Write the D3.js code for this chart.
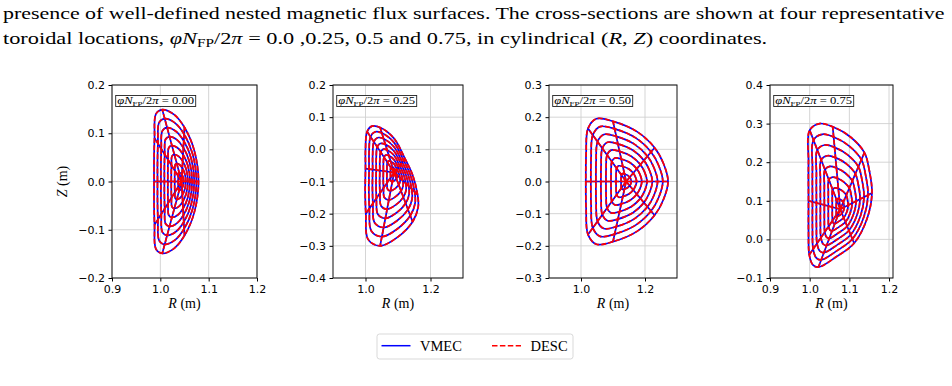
<!DOCTYPE html>
<html>
<head>
<meta charset="utf-8">
<script src="https://cdn.jsdelivr.net/npm/d3@7"></script>
<style>
  body { margin: 0; background: #fff; }
  svg { display: block; }
</style>
</head>
<body>
<div id="chart"></div>
<script>
// toroidal cuts, phi*NFP/2pi
const phiLabels = ["0.00", "0.25", "0.50", "0.75"];
// flux surface labels drawn (rho)
const rhoLevels = [0.125, 0.25, 0.375, 0.5, 0.625, 0.75, 0.875, 1.0];

// magnetic axis per cut
const axisR = [1.044, 1.088, 1.141, 1.077];
const axisZ = [0.000, -0.072, 0.000, 0.078];

// last closed surface, 16 points per cut (counter-clockwise)
const boundaryR = [
  [1.079, 1.070, 1.050, 1.028, 1.004, 0.991, 0.988, 0.987, 0.987, 0.987, 0.988, 0.991, 1.004, 1.028, 1.050, 1.070],
  [1.160, 1.145, 1.122, 1.087, 1.045, 1.020, 1.005, 1.000, 1.000, 0.999, 1.001, 1.008, 1.045, 1.100, 1.145, 1.162],
  [1.272, 1.258, 1.230, 1.175, 1.100, 1.048, 1.022, 1.016, 1.015, 1.016, 1.022, 1.048, 1.100, 1.175, 1.230, 1.258],
  [1.157, 1.150, 1.138, 1.102, 1.058, 1.025, 1.000, 0.997, 0.997, 0.997, 0.999, 1.008, 1.022, 1.067, 1.112, 1.145]
];
const boundaryZ = [
  [0.000, 0.065, 0.112, 0.139, 0.149, 0.140, 0.090, 0.045, 0.000, -0.045, -0.090, -0.140, -0.149, -0.139, -0.112, -0.065],
  [-0.140, -0.080, -0.030, 0.035, 0.068, 0.072, 0.055, 0.000, -0.060, -0.130, -0.200, -0.280, -0.300, -0.272, -0.225, -0.180],
  [0.000, 0.055, 0.105, 0.155, 0.187, 0.195, 0.165, 0.085, 0.000, -0.085, -0.165, -0.195, -0.187, -0.155, -0.105, -0.055],
  [0.120, 0.180, 0.225, 0.266, 0.292, 0.300, 0.283, 0.200, 0.100, 0.020, -0.040, -0.066, -0.072, -0.045, -0.010, 0.055]
];

// axis limits and ticks
const xDomains = [[0.9, 1.2], [0.9, 1.3], [0.9, 1.3], [0.9, 1.21]];
const yDomains = [[-0.2, 0.2], [-0.4, 0.2], [-0.3, 0.3], [-0.1, 0.4]];
const xTicks = [[0.9, 1.0, 1.1, 1.2], [1.0, 1.2], [1.0, 1.2], [0.9, 1.0, 1.1, 1.2]];
const yTicks = [
  [-0.2, -0.1, 0.0, 0.1, 0.2],
  [-0.4, -0.3, -0.2, -0.1, 0.0, 0.1, 0.2],
  [-0.3, -0.2, -0.1, 0.0, 0.1, 0.2, 0.3],
  [-0.1, 0.0, 0.1, 0.2, 0.3, 0.4]
];
const seriesNames = ["VMEC", "DESC"];

const width = 952;
const height = 386;
const frames = [
  { left: 112, right: 257 },
  { left: 333, right: 463 },
  { left: 549, right: 677 },
  { left: 770, right: 893 }
];
const frameTop = 85, frameBottom = 278;
const serif = "'Liberation Serif', 'DejaVu Serif', serif";
const sans = "'DejaVu Sans', sans-serif";

const svg = d3.select("#chart").append("svg")
  .attr("width", width)
  .attr("height", height)
  .attr("viewBox", [0, 0, width, height]);

// squeeze/stretch a text element horizontally so it spans w pixels from x
function fitWidth(t, x, w) {
  const bb = t.node().getBBox();
  const s = w / bb.width;
  t.attr("transform", `translate(${x},0) scale(${s},1) translate(${-bb.x},0)`);
}

// caption text above the figure
const line1 = svg.append("text")
  .attr("x", 0).attr("y", 19)
  .attr("font-family", serif).attr("font-size", 17.5).attr("fill", "#000")
  .text("presence of well-defined nested magnetic flux surfaces.  The cross-sections are shown at four representative");
fitWidth(line1, 3, 942);

const line2 = svg.append("text")
  .attr("x", 0).attr("y", 44.5)
  .attr("font-family", serif).attr("font-size", 17.5).attr("fill", "#000");
line2.append("tspan").text("toroidal locations, ");
line2.append("tspan").attr("font-style", "italic").text("\u03C6N");
line2.append("tspan").attr("font-size", 12).attr("dy", 3).text("FP");
line2.append("tspan").attr("dy", -3).text("/2");
line2.append("tspan").attr("font-style", "italic").text("\u03C0");
line2.append("tspan").text(" = 0.0 ,0.25, 0.5 and 0.75, in cylindrical (");
line2.append("tspan").attr("font-style", "italic").text("R, Z");
line2.append("tspan").text(") coordinates.");
fitWidth(line2, 3, 765);

const curve = d3.curveCatmullRomClosed.alpha(0.5);

phiLabels.forEach((lab, p) => {
  const f = frames[p];
  const x = d3.scaleLinear().domain(xDomains[p]).range([f.left, f.right]);
  const y = d3.scaleLinear().domain(yDomains[p]).range([frameBottom, frameTop]);
  const g = svg.append("g");

  // grid
  g.append("g").selectAll("line").data(xTicks[p]).join("line")
    .attr("x1", d => x(d)).attr("x2", d => x(d))
    .attr("y1", frameTop).attr("y2", frameBottom)
    .attr("stroke", "#d0d0d0").attr("stroke-width", 0.9);
  g.append("g").selectAll("line").data(yTicks[p]).join("line")
    .attr("x1", f.left).attr("x2", f.right)
    .attr("y1", d => y(d)).attr("y2", d => y(d))
    .attr("stroke", "#d0d0d0").attr("stroke-width", 0.9);

  // surfaces: each rho ring scaled from axis to boundary
  const ring = rho => boundaryR[p].map((r, i) => [
    axisR[p] + rho * (r - axisR[p]),
    axisZ[p] + rho * (boundaryZ[p][i] - axisZ[p])
  ]);
  const ringLine = d3.line().x(d => x(d[0])).y(d => y(d[1])).curve(curve);
  const rayIdx = d3.range(0, boundaryR[p].length, 2);
  const rayLine = i => d3.line()([
    [x(axisR[p]), y(axisZ[p])],
    [x(boundaryR[p][i]), y(boundaryZ[p][i])]
  ]);

  seriesNames.forEach(name => {
    const isDesc = name === "DESC";
    const s = g.append("g")
      .attr("fill", "none")
      .attr("stroke", isDesc ? "#ff0000" : "#0000ff")
      .attr("stroke-width", 1.7)
      .attr("stroke-dasharray", isDesc ? "5,2.2" : null);
    s.selectAll("path.ring").data(rhoLevels).join("path")
      .attr("class", "ring")
      .attr("d", rho => ringLine(ring(rho)));
    s.selectAll("path.ray").data(rayIdx).join("path")
      .attr("class", "ray")
      .attr("d", rayLine);
  });

  // axes
  g.append("g")
    .attr("transform", `translate(0,${frameBottom})`)
    .call(d3.axisBottom(x).tickValues(xTicks[p]).tickFormat(d3.format(".1f")).tickSize(3.5).tickPadding(3.5))
    .call(a => a.select(".domain").remove())
    .call(a => a.selectAll("text").attr("font-family", sans).attr("font-size", 11).attr("fill", "#000"));
  g.append("g")
    .attr("transform", `translate(${f.left},0)`)
    .call(d3.axisLeft(y).tickValues(yTicks[p]).tickFormat(d3.format(".1f")).tickSize(3.5).tickPadding(3.5))
    .call(a => a.select(".domain").remove())
    .call(a => a.selectAll("text").attr("font-family", sans).attr("font-size", 11).attr("fill", "#000"));

  g.append("rect")
    .attr("x", f.left).attr("y", frameTop)
    .attr("width", f.right - f.left).attr("height", frameBottom - frameTop)
    .attr("fill", "none").attr("stroke", "#111").attr("stroke-width", 1);

  // title box
  const bx = f.left + 3.7, by = frameTop + 10.5, bw = 80, bh = 11;
  g.append("rect")
    .attr("x", bx).attr("y", by).attr("width", bw).attr("height", bh)
    .attr("fill", "#fff").attr("stroke", "#222").attr("stroke-width", 0.9);
  const t = g.append("text")
    .attr("y", by + 8.6)
    .attr("font-family", serif).attr("font-size", 10).attr("fill", "#000");
  t.append("tspan").attr("font-style", "italic").text("\u03C6N");
  t.append("tspan").attr("font-size", 7).attr("dy", 1.8).text("FP");
  t.append("tspan").attr("dy", -1.8).text("/2");
  t.append("tspan").attr("font-style", "italic").text("\u03C0");
  t.append("tspan").text(" = " + lab);
  fitWidth(t, bx + 1.5, bw - 3);

  // x label
  const xl = g.append("text")
    .attr("x", (f.left + f.right) / 2).attr("y", 307.5)
    .attr("text-anchor", "middle")
    .attr("font-family", serif).attr("font-size", 14).attr("fill", "#000");
  xl.append("tspan").attr("font-style", "italic").text("R");
  xl.append("tspan").text(" (m)");

  if (p === 0) {
    const yl = g.append("text")
      .attr("transform", `translate(67,${(frameTop + frameBottom) / 2}) rotate(-90)`)
      .attr("text-anchor", "middle")
      .attr("font-family", serif).attr("font-size", 14).attr("fill", "#000");
    yl.append("tspan").attr("font-style", "italic").text("Z");
    yl.append("tspan").text(" (m)");
  }
});

// legend
const leg = svg.append("g");
leg.append("rect")
  .attr("x", 377).attr("y", 334).attr("width", 196).attr("height", 25).attr("rx", 2.5)
  .attr("fill", "#fff").attr("stroke", "#d5d5d5").attr("stroke-width", 0.9);
seriesNames.forEach((name, i) => {
  const lx = 381.5 + i * 110.5;
  leg.append("line")
    .attr("x1", lx).attr("x2", lx + 29).attr("y1", 345.7).attr("y2", 345.7)
    .attr("stroke", i ? "#ff0000" : "#0000ff").attr("stroke-width", 1.5)
    .attr("stroke-dasharray", i ? "5.5,2.4" : null);
  leg.append("text")
    .attr("x", lx + 38.5).attr("y", 350.8)
    .attr("font-family", serif).attr("font-size", 14.5).attr("fill", "#000")
    .text(name);
});
</script>
</body>
</html>
